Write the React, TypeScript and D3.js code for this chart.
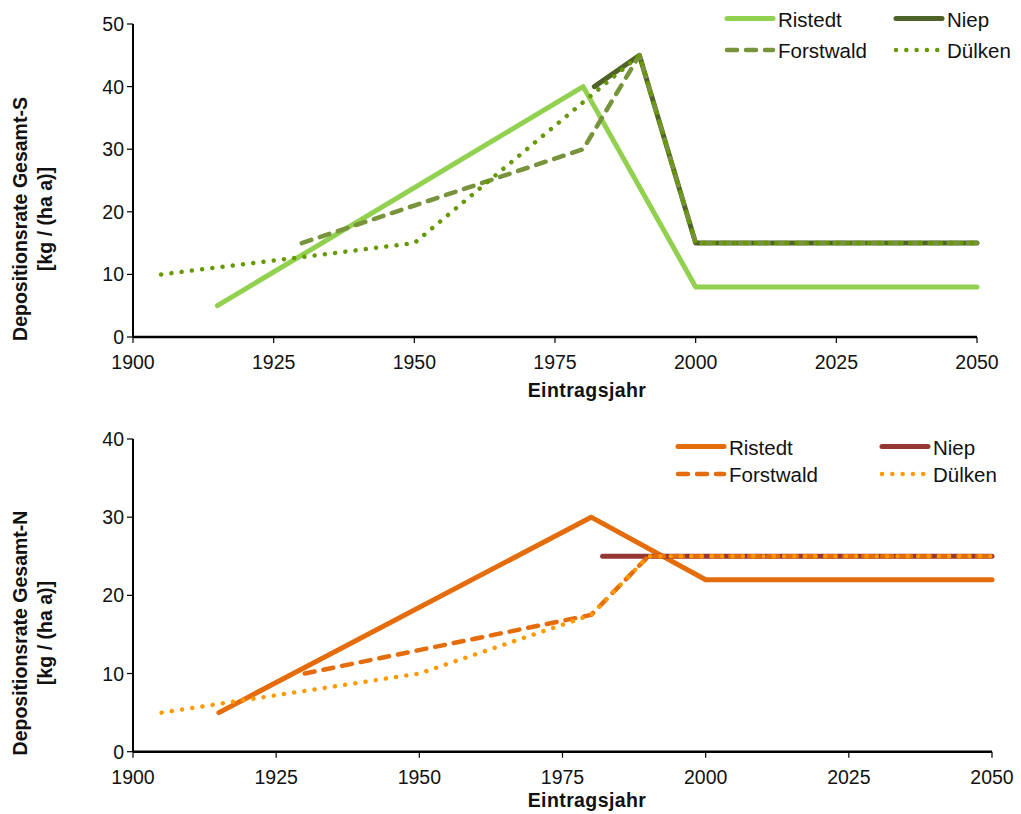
import React from "react";
import * as d3 from "d3";

const yearTicks = [1900, 1925, 1950, 1975, 2000, 2025, 2050];
const sTicks = [0, 10, 20, 30, 40, 50];
const nTicks = [0, 10, 20, 30, 40];
const seriesNames = ["Ristedt", "Niep", "Forstwald", "Dülken"];

// Sulfur deposition (top chart)
const sRistedt: [number, number][] = [[1915, 5], [1980, 40], [2000, 8], [2050, 8]];
const sNiep: [number, number][] = [[1982, 40], [1990, 45], [2000, 15], [2050, 15]];
const sForstwald: [number, number][] = [[1930, 15], [1980, 30], [1990, 45], [2000, 15], [2050, 15]];
const sDuelken: [number, number][] = [[1905, 10], [1950, 15], [1990, 45], [2000, 15], [2050, 15]];

// Nitrogen deposition (bottom chart)
const nRistedt: [number, number][] = [[1915, 5], [1980, 30], [2000, 22], [2050, 22]];
const nNiep: [number, number][] = [[1982, 25], [2050, 25]];
const nForstwald: [number, number][] = [[1930, 10], [1980, 17.5], [1990, 25], [2050, 25]];
const nDuelken: [number, number][] = [[1905, 5], [1950, 10], [1980, 17.5], [1990, 25], [2050, 25]];

const FONT = "'Liberation Sans', Arial, sans-serif";
const FS = 19.5;
const LFS = 20.5;
const TFS = 19.5;

type Style = { color: string; dash?: string; width: number };

const DASH = "10,9";
const DOT = "0.01,10.3";

const topStyles: Style[] = [
  { color: "#92D050", width: 5 },
  { color: "#4F6228", width: 5 },
  { color: "#77933C", width: 4.5, dash: DASH },
  { color: "#669900", width: 4.5, dash: DOT },
];
const botStyles: Style[] = [
  { color: "#E46C0A", width: 5 },
  { color: "#953735", width: 5 },
  { color: "#E46C0A", width: 4.5, dash: DASH },
  { color: "#FF9900", width: 4.5, dash: DOT },
];

type PanelProps = {
  data: [number, number][][];
  styles: Style[];
  yTicks: number[];
  yMax: number;
  x0: number;
  x1: number;
  yTop: number;
  yBottom: number;
  title1: string;
  title2: string;
  titleCy: number;
  xTitleY: number;
  legend: { x1: number; x2: number; r1: number; r2: number };
};

function Panel(p: PanelProps) {
  const x = d3.scaleLinear().domain([1900, 2050]).range([p.x0, p.x1]);
  const y = d3.scaleLinear().domain([0, p.yMax]).range([p.yBottom, p.yTop]);
  const line = d3
    .line<[number, number]>()
    .x((d) => x(d[0]))
    .y((d) => y(d[1]));
  const legPos = [
    { lx: p.legend.x1, ly: p.legend.r1 },
    { lx: p.legend.x2, ly: p.legend.r1 },
    { lx: p.legend.x1, ly: p.legend.r2 },
    { lx: p.legend.x2, ly: p.legend.r2 },
  ];
  return (
    <g>
      <line x1={p.x0} x2={p.x0} y1={p.yTop} y2={p.yBottom} stroke="#000" strokeWidth={2} />
      <line x1={p.x0} x2={p.x1} y1={p.yBottom} y2={p.yBottom} stroke="#000" strokeWidth={2.5} />
      {p.yTicks.map((t) => (
        <g key={"y" + t}>
          <line x1={p.x0 - 6} x2={p.x0} y1={y(t)} y2={y(t)} stroke="#000" strokeWidth={1.2} />
          <text x={p.x0 - 9} y={y(t)} dy="0.36em" textAnchor="end" fontFamily={FONT} fontSize={FS} fill="#111">
            {t}
          </text>
        </g>
      ))}
      {yearTicks.map((t) => (
        <g key={"x" + t}>
          <line x1={x(t)} x2={x(t)} y1={p.yBottom} y2={p.yBottom + 6} stroke="#000" strokeWidth={1.2} />
          <text x={x(t)} y={p.yBottom + 32} textAnchor="middle" fontFamily={FONT} fontSize={FS} fill="#111">
            {t}
          </text>
        </g>
      ))}
      <text
        x={587}
        y={p.xTitleY}
        textAnchor="middle"
        fontFamily={FONT}
        fontSize={TFS}
        fontWeight="bold"
        letterSpacing={0.4}
        fill="#111"
      >
        Eintragsjahr
      </text>
      <text
        transform={`translate(20,${p.titleCy}) rotate(-90)`}
        textAnchor="middle"
        dominantBaseline="central"
        fontFamily={FONT}
        fontSize={TFS}
        fontWeight="bold"
        fill="#111"
      >
        {p.title1}
      </text>
      <text
        transform={`translate(45,${p.titleCy}) rotate(-90)`}
        textAnchor="middle"
        dominantBaseline="central"
        fontFamily={FONT}
        fontSize={TFS}
        fontWeight="bold"
        fill="#111"
      >
        {p.title2}
      </text>
      {p.data.map((d, i) => (
        <path
          key={"s" + i}
          d={line(d) || ""}
          fill="none"
          stroke={p.styles[i].color}
          strokeWidth={p.styles[i].width}
          strokeDasharray={p.styles[i].dash}
          strokeLinecap="round"
          strokeLinejoin="round"
        />
      ))}
      {seriesNames.map((n, i) => (
        <g key={"l" + i}>
          <line
            x1={legPos[i].lx}
            x2={legPos[i].lx + 46}
            y1={legPos[i].ly}
            y2={legPos[i].ly}
            stroke={p.styles[i].color}
            strokeWidth={p.styles[i].width}
            strokeDasharray={p.styles[i].dash}
            strokeLinecap="round"
          />
          <text x={legPos[i].lx + 51} y={legPos[i].ly + 8} fontFamily={FONT} fontSize={LFS} fill="#111">
            {n}
          </text>
        </g>
      ))}
    </g>
  );
}

export default function App() {
  return (
    <svg width={1021} height={814} style={{ position: "absolute", left: 0, top: 0, background: "#fff" }}>
      <rect width={1021} height={814} fill="#fff" />
      <Panel
        data={[sRistedt, sNiep, sForstwald, sDuelken]}
        styles={topStyles}
        yTicks={sTicks}
        yMax={50}
        x0={133}
        x1={977}
        yTop={24}
        yBottom={337}
        title1="Depositionsrate Gesamt-S"
        title2="[kg / (ha a)]"
        titleCy={219}
        xTitleY={397}
        legend={{ x1: 727, x2: 896, r1: 18.5, r2: 50 }}
      />
      <Panel
        data={[nRistedt, nNiep, nForstwald, nDuelken]}
        styles={botStyles}
        yTicks={nTicks}
        yMax={40}
        x0={133}
        x1={992}
        yTop={439}
        yBottom={751.7}
        title1="Depositionsrate Gesamt-N"
        title2="[kg / (ha a)]"
        titleCy={633}
        xTitleY={807}
        legend={{ x1: 678, x2: 882, r1: 446.5, r2: 474 }}
      />
    </svg>
  );
}
